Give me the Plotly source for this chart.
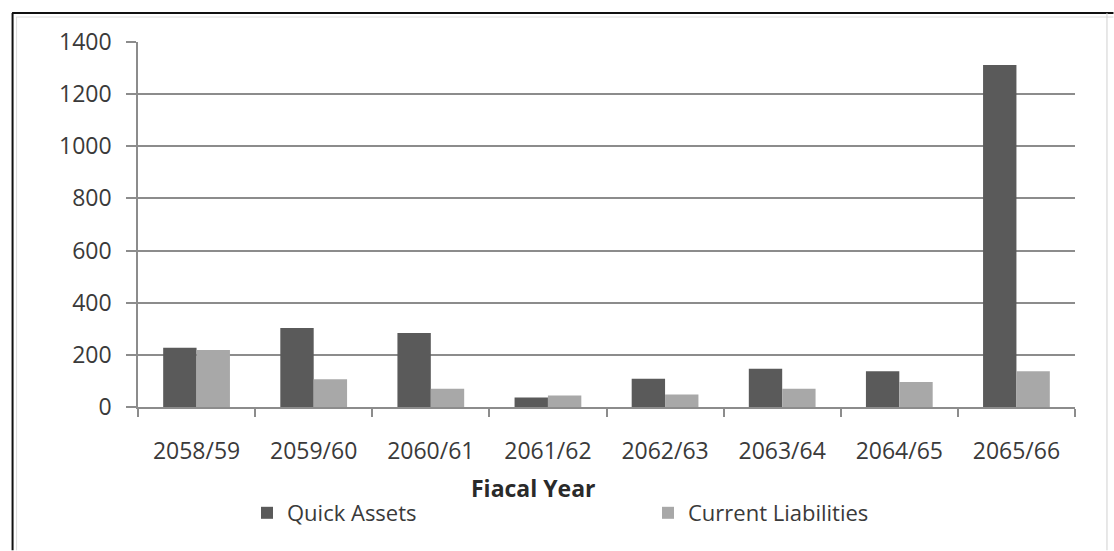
import plotly.graph_objects as go

# Fiscal years and values
years = ["2058/59", "2059/60", "2060/61", "2061/62",
         "2062/63", "2063/64", "2064/65", "2065/66"]
quick_assets = [227, 303, 284, 36, 108, 147, 137, 1312]
current_liabilities = [219, 106, 70, 44, 48, 70, 96, 137]
y_ticks = [0, 200, 400, 600, 800, 1000, 1200, 1400]

W, H = 1114, 551
ML, MR, MT, MB = 138, 38.5, 42, 143.5
PW, PH = W - ML - MR, H - MT - MB


def px(x):
    """pixel x -> paper x"""
    return (x - ML) / PW


def py(y):
    """pixel y -> paper y"""
    return (H - MB - y) / PH


FONT = "Open Sans"
TXT = "#3a3a3a"

fig = go.Figure()
fig.add_trace(go.Bar(name="Quick Assets", x=years, y=quick_assets,
                     marker=dict(color="#5a5a5a", line=dict(width=0))))
fig.add_trace(go.Bar(name="Current Liabilities", x=years, y=current_liabilities,
                     marker=dict(color="#a8a8a8", line=dict(width=0))))

fig.update_layout(
    width=W, height=H,
    margin=dict(l=ML, r=MR, t=MT, b=MB, pad=0),
    paper_bgcolor="white", plot_bgcolor="white",
    barmode="group", bargap=0.43, bargroupgap=0,
    font=dict(family=FONT, size=22, color=TXT),
    showlegend=True,
    legend=dict(orientation="h", xref="container", yref="container",
                x=247 / W, y=1 - 513 / H, xanchor="left", yanchor="middle",
                entrywidth=356, entrywidthmode="pixels",
                font=dict(family=FONT, size=22, color=TXT),
                bgcolor="rgba(0,0,0,0)", itemclick=False),
)

fig.update_xaxes(
    type="category", showgrid=False, showline=True, linecolor="#8c8c8c",
    linewidth=1.5, ticks="outside", tickson="boundaries", ticklen=8,
    tickcolor="#8c8c8c", tickwidth=1.5, ticklabelstandoff=23,
    tickfont=dict(family=FONT, size=23, color=TXT),
)
fig.update_yaxes(
    range=[0, 1400], tickvals=y_ticks, showgrid=True, gridcolor="#8c8c8c",
    gridwidth=1.5, showline=True, linecolor="#8c8c8c", linewidth=1.5,
    ticks="outside", ticklen=10, tickcolor="#8c8c8c", tickwidth=1.5,
    ticklabelstandoff=10, zeroline=False,
    tickfont=dict(family=FONT, size=23, color=TXT),
)

# Axis title
fig.add_annotation(text="<b>Fiacal Year</b>", xref="paper", yref="paper",
                   x=px(534), y=py(489), showarrow=False,
                   xanchor="center", yanchor="middle",
                   font=dict(family=FONT, size=23, color="#2a2a2a"))

# Chart frame
fig.add_shape(type="line", xref="paper", yref="paper",
              x0=px(12.5), x1=px(12.5), y0=py(13), y1=py(H),
              line=dict(color="#111111", width=2))
fig.add_shape(type="line", xref="paper", yref="paper",
              x0=px(12), x1=px(W), y0=py(13), y1=py(13),
              line=dict(color="#111111", width=2))
fig.add_shape(type="line", xref="paper", yref="paper",
              x0=px(16.5), x1=px(16.5), y0=py(17), y1=py(H),
              line=dict(color="#dddddd", width=1))
fig.add_shape(type="line", xref="paper", yref="paper",
              x0=px(16), x1=px(W), y0=py(17), y1=py(17),
              line=dict(color="#dddddd", width=1))
fig.add_shape(type="line", xref="paper", yref="paper",
              x0=px(1107.5), x1=px(1107.5), y0=py(13), y1=py(H),
              line=dict(color="#d0d0d0", width=1))

fig.write_html("out.html")
